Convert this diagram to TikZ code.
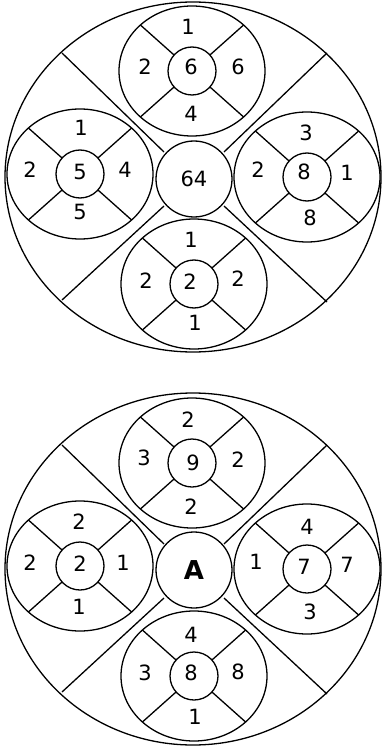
\documentclass[tikz,border=0pt]{standalone}
\usepackage{fontspec}
\setmainfont{DejaVu Sans}
\newcommand\subell[3]{%
  \draw (#1,#2) ellipse [x radius=73pt, y radius=65pt];
  \draw (#1,#2) ++(-51.6,-46) -- ++(103.2,92);
  \draw (#1,#2) ++(51.6,-46) -- ++(-103.2,92);
  \node[hub] (#3) at (#1,#2) {};
}
\begin{document}
\begin{tikzpicture}[x=1pt,y=-1pt,line width=1.3pt,
  lab/.style={font=\fontsize{21}{21}\selectfont, inner sep=0pt},
  hub/.style={draw, circle, fill=white, minimum size=48pt, inner sep=0pt},
  core/.style={draw, circle, fill=white, minimum size=76pt, inner sep=0pt}]
\useasboundingbox (0,0) rectangle (382,751);
% ---------- upper wheel ----------
\draw (193,177) ellipse [x radius=188pt, y radius=175pt];
\coordinate (u1) at (62,53);  \coordinate (u1e) at (164,152);
\coordinate (u2) at (327,53); \coordinate (u2e) at (224,152);
\coordinate (u3) at (62,300); \coordinate (u3e) at (164,206);
\coordinate (u4) at (327,302);\coordinate (u4e) at (224,206);
\draw (u1) -- (u1e); \draw (u2) -- (u2e); \draw (u3) -- (u3e); \draw (u4) -- (u4e);
\subell{192}{71}{ut}
\subell{80}{174}{ul}
\subell{307}{177}{ur}
\subell{194}{284}{ub}
\node[core,font=\fontsize{21}{21}\selectfont] (uc) at (194,179) {64};
% labels upper
\node[lab] (ut1) at (188,27) {1};
\node[lab] (ut2) at (145,67) {2};
\node[lab] (ut3) at (191,67) {6};
\node[lab] (ut4) at (238,67) {6};
\node[lab] (ut5) at (191,114) {4};
\node[lab] (ul1) at (81,128) {1};
\node[lab] (ul2) at (30,170) {2};
\node[lab] (ul3) at (80,172) {5};
\node[lab] (ul4) at (125,170) {4};
\node[lab] (ul5) at (80,212) {5};
\node[lab] (ur1) at (306,133) {3};
\node[lab] (ur2) at (258,170) {2};
\node[lab] (ur3) at (304,172) {8};
\node[lab] (ur4) at (347,173) {1};
\node[lab] (ur5) at (310,218) {8};
\node[lab] (ub1) at (191,240) {1};
\node[lab] (ub2) at (146,281) {2};
\node[lab] (ub3) at (190,282) {2};
\node[lab] (ub4) at (238,279) {2};
\node[lab] (ub5) at (195,323) {1};
% ---------- lower wheel ----------
\begin{scope}[shift={(0,392)}]
\draw (193,177) ellipse [x radius=188pt, y radius=176pt];
\coordinate (l1) at (62,53);  \coordinate (l1e) at (164,152);
\coordinate (l2) at (327,53); \coordinate (l2e) at (224,152);
\coordinate (l3) at (62,300); \coordinate (l3e) at (164,206);
\coordinate (l4) at (327,302);\coordinate (l4e) at (224,206);
\draw (l1) -- (l1e); \draw (l2) -- (l2e); \draw (l3) -- (l3e); \draw (l4) -- (l4e);
\subell{192}{71}{lt}
\subell{80}{174}{ll}
\subell{307}{177}{lr}
\subell{194}{284}{lb}
\node[core,font=\fontsize{26}{26}\selectfont\bfseries] (lc) at (194,178) {A};
\end{scope}
\node[lab] (lt1) at (188,420) {2};
\node[lab] (lt2) at (144,458) {3};
\node[lab] (lt3) at (193,463) {9};
\node[lab] (lt4) at (238,460) {2};
\node[lab] (lt5) at (191,507) {2};
\node[lab] (ll1) at (79,522) {2};
\node[lab] (ll2) at (30,563) {2};
\node[lab] (ll3) at (80,564) {2};
\node[lab] (ll4) at (123,563) {1};
\node[lab] (ll5) at (79,607) {1};
\node[lab] (lr1) at (307,527) {4};
\node[lab] (lr2) at (256,562) {1};
\node[lab] (lr3) at (304,567) {7};
\node[lab] (lr4) at (347,565) {7};
\node[lab] (lr5) at (310,612) {3};
\node[lab] (lb1) at (191,635) {4};
\node[lab] (lb2) at (145,673) {3};
\node[lab] (lb3) at (191,673) {8};
\node[lab] (lb4) at (238,672) {8};
\node[lab] (lb5) at (195,717) {1};
\end{tikzpicture}
\end{document}
